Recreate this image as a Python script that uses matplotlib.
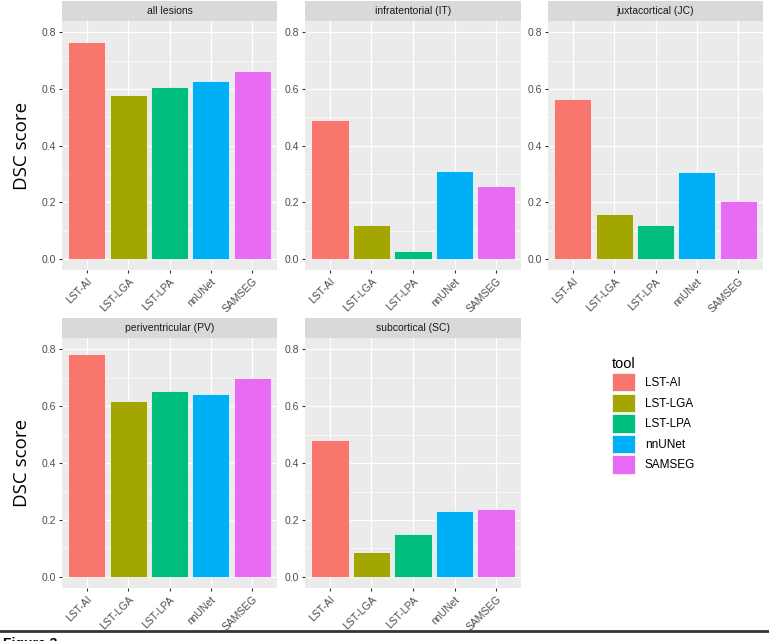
import matplotlib
matplotlib.use("Agg")
import matplotlib.pyplot as plt
from matplotlib.patches import Patch
from matplotlib.lines import Line2D
import numpy as np

plt.rcParams["font.family"] = ["Liberation Sans", "DejaVu Sans"]

tools = ["LST-AI", "LST-LGA", "LST-LPA", "nnUNet", "SAMSEG"]
colors = ["#F8766D", "#A3A500", "#00BF7D", "#00B0F6", "#E76BF3"]

regions = [
    "all lesions",
    "infratentorial (IT)",
    "juxtacortical (JC)",
    "periventricular (PV)",
    "subcortical (SC)",
]
dsc_all = [0.767, 0.580, 0.607, 0.627, 0.663]
dsc_it = [0.489, 0.120, 0.029, 0.310, 0.259]
dsc_jc = [0.564, 0.159, 0.119, 0.306, 0.204]
dsc_pv = [0.782, 0.618, 0.652, 0.644, 0.699]
dsc_sc = [0.482, 0.087, 0.151, 0.233, 0.238]
values = [dsc_all, dsc_it, dsc_jc, dsc_pv, dsc_sc]

W, H = 769, 641
fig = plt.figure(figsize=(W / 100, H / 100), dpi=100)

cols = [(62, 277), (305, 521), (548, 763)]
rows = [(1, 21, 270), (318, 338, 588)]  # strip top, panel top, panel bottom


def px_rect(x0, x1, y0, y1):
    return [x0 / W, 1 - y1 / H, (x1 - x0) / W, (y1 - y0) / H]


for i, (name, vals) in enumerate(zip(regions, values)):
    r, c = divmod(i, 3)
    x0, x1 = cols[c]
    s_top, p_top, p_bot = rows[r]

    ax = fig.add_axes(px_rect(x0, x1, p_top, p_bot))
    ax.set_facecolor("#EBEBEB")
    for sp in ax.spines.values():
        sp.set_visible(False)
    xs = np.arange(1, len(tools) + 1)
    ax.bar(xs, vals, width=0.9, color=colors, edgecolor="white", linewidth=0.5, zorder=3)
    ax.set_xlim(0.4, 5.6)
    ax.set_ylim(-0.039, 0.84)
    ax.set_yticks([0.0, 0.2, 0.4, 0.6, 0.8])
    ax.set_yticks([0.1, 0.3, 0.5, 0.7], minor=True)
    ax.set_yticklabels(["0.0", "0.2", "0.4", "0.6", "0.8"])
    ax.set_xticks(xs)
    ax.set_xticklabels(tools, rotation=45, ha="right", rotation_mode="anchor")
    ax.grid(True, which="major", color="white", linewidth=0.9, zorder=0)
    ax.grid(True, which="minor", axis="y", color="white", linewidth=0.45, zorder=0)
    ax.set_axisbelow(True)
    ax.tick_params(axis="both", which="major", color="#333333", length=2.5, width=0.8,
                   labelsize=7.5, labelcolor="#4D4D4D", pad=2)
    ax.tick_params(axis="both", which="minor", length=0)

    sax = fig.add_axes(px_rect(x0, x1, s_top, p_top))
    sax.set_facecolor("#D9D9D9")
    sax.set_xticks([])
    sax.set_yticks([])
    for sp in sax.spines.values():
        sp.set_visible(False)
    sax.text(0.5, 0.5, name, ha="center", va="center", fontsize=7.5, color="#1A1A1A",
             transform=sax.transAxes)

for s_top, p_top, p_bot in rows:
    fig.text(22 / W, 1 - (p_top + p_bot) / 2 / H, "DSC score", rotation=90,
             ha="center", va="center", fontsize=13.5, family=["Open Sans", "DejaVu Sans"])

handles = [Patch(facecolor=col, edgecolor="white", linewidth=0.5) for col in colors]
leg = fig.legend(handles, tools, title="tool", loc="upper left",
                 bbox_to_anchor=(607 / W, 1 - 352 / H), frameon=False,
                 fontsize=8.5, title_fontsize=10.5, handlelength=2.0, handleheight=2.0,
                 labelspacing=0.2, handletextpad=0.8, borderaxespad=0)
leg._legend_box.align = "left"

fig.add_artist(Line2D([0, 1], [1 - 631 / H, 1 - 631 / H], color="#333333", linewidth=2.0,
                      transform=fig.transFigure))
fig.text(3 / W, 1 - 637 / H, "Figure 3", ha="left", va="top", fontsize=10,
         fontweight="bold", color="black")

fig.savefig("out.png", dpi=100)
